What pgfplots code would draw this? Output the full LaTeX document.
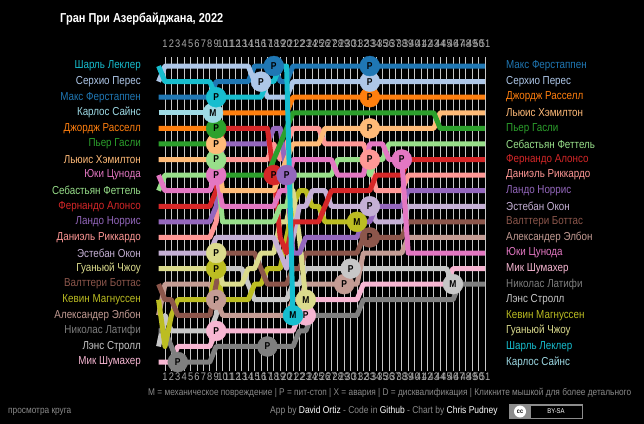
\documentclass[border=0pt]{standalone}
\usepackage{fontspec}
\setmainfont{Liberation Sans}[FakeStretch=0.85]
\usepackage{pgfplots}
\pgfplotsset{compat=1.18}
\definecolor{cVER}{HTML}{1F77B4}
\definecolor{cPER}{HTML}{AEC7E8}
\definecolor{cRUS}{HTML}{FF7F0E}
\definecolor{cHAM}{HTML}{FFBB78}
\definecolor{cGAS}{HTML}{2CA02C}
\definecolor{cVET}{HTML}{98DF8A}
\definecolor{cALO}{HTML}{D62728}
\definecolor{cRIC}{HTML}{FF9896}
\definecolor{cNOR}{HTML}{9467BD}
\definecolor{cOCO}{HTML}{C5B0D5}
\definecolor{cBOT}{HTML}{8C564B}
\definecolor{cALB}{HTML}{C49C94}
\definecolor{cTSU}{HTML}{E377C2}
\definecolor{cMSC}{HTML}{F7B6D2}
\definecolor{cLAT}{HTML}{7F7F7F}
\definecolor{cSTR}{HTML}{C7C7C7}
\definecolor{cMAG}{HTML}{BCBD22}
\definecolor{cZHO}{HTML}{DBDB8D}
\definecolor{cLEC}{HTML}{17BECF}
\definecolor{cSAI}{HTML}{9EDAE5}
\definecolor{lapg}{HTML}{A8A8A8}
\definecolor{gridc}{HTML}{C8C8C8}
\definecolor{footg}{HTML}{8A8A8A}
\pgfplotsset{
  drv/.style={mark=none, line width=5bp, line join=round},
  pit/.style={only marks, mark=*, mark size=10bp, nodes near coords={#1}, nodes near coords align={center},
    every node near coord/.append style={text=black, font=\bfseries\fontsize{10}{10}\selectfont, inner sep=0pt}},
  lapaxis/.style={at={(158.6bp,-57bp)}, anchor=north west,
    width=326.4bp, height=314.4bp, scale only axis,
    xmin=0, xmax=51, ymin=0.42, ymax=20.6, y dir=reverse,
    axis line style={draw=none}, tick style={draw=none}, major tick length=0pt,
    xtick={1,...,51}, ytick={1,...,20},
    /pgf/number format/assume math mode=true,
    clip=false},
}
\begin{document}
\begin{tikzpicture}
\fill[black] (0,0) rectangle (644bp,-424bp);
\node[anchor=west, text=white, font=\bfseries\fontsize{13}{15}\selectfont, inner sep=0pt] at (60bp,-19bp) {Гран При Азербайджана, 2022};

\begin{axis}[lapaxis,
  xticklabel pos=upper,
  xticklabel style={text=lapg, font=\fontsize{11}{11}\selectfont, inner sep=0pt, anchor=center, yshift=13bp},
  xmajorgrids, grid style={draw=gridc, line width=1bp},
  yticklabels={{\textcolor{cLEC}{Шарль Леклер}},{\textcolor{cPER}{Серхио Перес}},{\textcolor{cVER}{Макс Ферстаппен}},{\textcolor{cSAI}{Карлос Сайнс}},{\textcolor{cRUS}{Джордж Расселл}},{\textcolor{cGAS}{Пьер Гасли}},{\textcolor{cHAM}{Льюис Хэмилтон}},{\textcolor{cTSU}{Юки Цунода}},{\textcolor{cVET}{Себастьян Феттель}},{\textcolor{cALO}{Фернандо Алонсо}},{\textcolor{cNOR}{Ландо Норрис}},{\textcolor{cRIC}{Даниэль Риккардо}},{\textcolor{cOCO}{Эстебан Окон}},{\textcolor{cZHO}{Гуаньюй Чжоу}},{\textcolor{cBOT}{Валттери Боттас}},{\textcolor{cMAG}{Кевин Магнуссен}},{\textcolor{cALB}{Александер Элбон}},{\textcolor{cLAT}{Николас Латифи}},{\textcolor{cSTR}{Лэнс Стролл}},{\textcolor{cMSC}{Мик Шумахер}}},
  yticklabel style={font=\fontsize{11.6}{12}\selectfont, anchor=east, inner sep=0pt, xshift=-17.6bp},
]
% driver lines (grid order reversed)
\addplot[drv, cMSC] coordinates {(0,20)(2,20)(3,19)(8,19)(9,18)(21,18)(22,17)(23,17)(24,16)(31,16)(32,15)(45,15)(46,14)(51,14)};
\addplot[drv, cSTR] coordinates {(0,19)(1,17)(2,18)(8,18)(9,17)(10,14)(13,14)(14,15)(15,16)(20,16)(21,15)(22,15)(23,14)(45,14)(46,15)};
\addplot[drv, cLAT] coordinates {(0,18)(1,18)(2,19)(3,20)(8,20)(9,19)(21,19)(22,18)(23,18)(24,17)(31,17)(32,16)(46,16)(47,15)(51,15)};
\addplot[drv, cALB] coordinates {(0,17)(1,15)(8,15)(9,16)(10,17)(20,17)(21,16)(22,16)(23,15)(31,15)(32,13)(38,13)(39,12)(51,12)};
\addplot[drv, cMAG] coordinates {(0,16)(1,19)(2,17)(3,16)(8,16)(9,14)(10,16)(14,16)(15,15)(16,15)(17,14)(19,14)(20,12)(21,10)(22,9)(23,9)(24,10)(25,10)(26,11)(31,11)};
\addplot[drv, cBOT] coordinates {(0,15)(1,16)(2,16)(3,17)(8,17)(9,15)(10,13)(15,13)(16,14)(17,15)(20,15)(21,14)(22,14)(23,13)(31,13)(32,12)(38,12)(39,11)(51,11)};
\addplot[drv, cZHO] coordinates {(0,14)(8,14)(9,13)(10,15)(13,15)(14,14)(15,14)(16,13)(18,13)(19,11)(20,11)(21,9)(22,12)(23,16)};
\addplot[drv, cOCO] coordinates {(0,13)(8,13)(9,12)(18,12)(19,13)(20,14)(21,12)(22,10)(23,10)(24,9)(26,9)(27,10)(33,10)(34,11)(38,11)(39,10)(51,10)};
\addplot[drv, cRIC] coordinates {(0,12)(8,12)(9,11)(10,7)(17,7)(18,6)(19,7)(20,6)(21,5)(25,5)(26,6)(32,6)(33,7)(34,9)(38,9)(39,8)(51,8)};
\addplot[drv, cNOR] coordinates {(0,11)(8,11)(9,10)(10,6)(17,6)(18,5)(19,5)(20,8)(21,13)(22,13)(23,12)(31,12)(32,11)(33,11)(34,10)(38,10)(39,9)(51,9)};
\addplot[drv, cALO] coordinates {(0,10)(8,10)(9,9)(10,5)(17,5)(18,8)(19,12)(20,13)(21,11)(25,11)(26,10)(27,9)(33,9)(34,8)(38,8)(39,7)(51,7)};
\addplot[drv, cVET] coordinates {(0,9)(1,8)(8,8)(9,7)(10,11)(18,11)(19,10)(20,10)(21,8)(27,8)(28,7)(32,7)(33,8)(34,7)(35,7)(36,6)(51,6)};
\addplot[drv, cTSU] coordinates {(0,8)(1,9)(8,9)(9,8)(10,10)(18,10)(19,9)(20,9)(21,7)(27,7)(28,8)(32,8)(33,6)(35,6)(36,7)(38,7)(39,13)(51,13)};
\addplot[drv, cHAM] coordinates {(0,7)(8,7)(9,6)(10,9)(18,9)(19,8)(20,7)(21,6)(25,6)(26,5)(43,5)(44,4)(51,4)};
\addplot[drv, cGAS] coordinates {(0,6)(8,6)(9,5)(10,8)(17,8)(18,7)(19,6)(20,5)(21,4)(43,4)(44,5)(51,5)};
\addplot[drv, cRUS] coordinates {(0,5)(8,5)(9,4)(20,4)(21,3)(51,3)};
\addplot[drv, cSAI] coordinates {(0,4)(8.5,4)};
\addplot[drv, cVER] coordinates {(0,3)(8,3)(9,2)(14,2)(15,1)(18,1)(19,2)(20,2)(21,1)(51,1)};
\addplot[drv, cPER] coordinates {(0,2)(1,1)(14,1)(15,2)(16,2)(17,3)(20,3)(21,2)(51,2)};
\addplot[drv, cLEC] coordinates {(0,1)(1,2)(8,2)(9,3)(16,3)(17,2)(18,2)(19,1)(20,1)(21,17)};
% pit stops and retirements
\addplot[pit=P, cLAT] coordinates {(3,20)(17,19)};
\addplot[pit=P, cMSC] coordinates {(9,18)(23,17)};
\addplot[pit=P, cALB] coordinates {(9,16)(29,15)};
\addplot[pit=P, cSTR] coordinates {(30,14)};
\addplot[pit=M, cSTR] coordinates {(46,15)};
\addplot[pit=P, cMAG] coordinates {(9,14)};
\addplot[pit=M, cMAG] coordinates {(31,11)};
\addplot[pit=P, cZHO] coordinates {(9,13)};
\addplot[pit=M, cLEC] coordinates {(21,17)};
\addplot[pit=M, cZHO] coordinates {(23,16)};
\addplot[pit=P, cBOT] coordinates {(33,12)};
\addplot[pit=P, cOCO] coordinates {(33,10)};
\addplot[pit=P, cALO] coordinates {(18,8)};
\addplot[pit=P, cNOR] coordinates {(20,8)};
\addplot[pit=P, cRIC] coordinates {(33,7)};
\addplot[pit=P, cTSU] coordinates {(9,8)(38,7)};
\addplot[pit=P, cVET] coordinates {(9,7)};
\addplot[pit=P, cHAM] coordinates {(9,6)(33,5)};
\addplot[pit=P, cGAS] coordinates {(9,5)};
\addplot[pit=M, cSAI] coordinates {(8.5,4)};
\addplot[pit=P, cRUS] coordinates {(33,3)};
\addplot[pit=P, cLEC] coordinates {(9,3)};
\addplot[pit=P, cPER] coordinates {(16,2)(33,2)};
\addplot[pit=P, cVER] coordinates {(18,1)(33,1)};
\end{axis}

\begin{axis}[lapaxis,
  xticklabel pos=lower,
  xticklabel style={text=lapg, font=\fontsize{11}{11}\selectfont, inner sep=0pt, anchor=center, yshift=-5bp},
  yticklabel pos=upper,
  yticklabels={{\textcolor{cVER}{Макс Ферстаппен}},{\textcolor{cPER}{Серхио Перес}},{\textcolor{cRUS}{Джордж Расселл}},{\textcolor{cHAM}{Льюис Хэмилтон}},{\textcolor{cGAS}{Пьер Гасли}},{\textcolor{cVET}{Себастьян Феттель}},{\textcolor{cALO}{Фернандо Алонсо}},{\textcolor{cRIC}{Даниэль Риккардо}},{\textcolor{cNOR}{Ландо Норрис}},{\textcolor{cOCO}{Эстебан Окон}},{\textcolor{cBOT}{Валттери Боттас}},{\textcolor{cALB}{Александер Элбон}},{\textcolor{cTSU}{Юки Цунода}},{\textcolor{cMSC}{Мик Шумахер}},{\textcolor{cLAT}{Николас Латифи}},{\textcolor{cSTR}{Лэнс Стролл}},{\textcolor{cMAG}{Кевин Магнуссен}},{\textcolor{cZHO}{Гуаньюй Чжоу}},{\textcolor{cLEC}{Шарль Леклер}},{\textcolor{cSAI}{Карлос Сайнс}}},
  yticklabel style={font=\fontsize{11.6}{12}\selectfont, anchor=west, inner sep=0pt, xshift=21bp},
]
\addplot[draw=none, mark=none] coordinates {(0,1)};
\end{axis}

\node[anchor=west, inner sep=0pt, text=footg, font=\fontsize{9.8}{12}\selectfont] at (148bp,-393bp) {M = механическое повреждение | P = пит-стоп | X = авария | D = дисквалификация | Кликните мышкой для более детального};
\node[anchor=west, inner sep=0pt, text=footg, font=\fontsize{9.8}{12}\selectfont] at (8bp,-412bp) {просмотра круга};
\node[anchor=west, inner sep=0pt, text=footg, font=\fontsize{10}{12}\selectfont] at (270bp,-411bp) {App by \textcolor{white}{David Ortiz} - Code in \textcolor{white}{Github} - Chart by \textcolor{white}{Chris Pudney}};
\fill[white!55!black] (509bp,-404bp) rectangle (583bp,-419bp);
\fill[black] (531bp,-405.5bp) rectangle (581.5bp,-417.5bp);
\fill[white] (520bp,-411.5bp) circle (6bp);
\node[inner sep=0pt, font=\bfseries\fontsize{6.5}{7}\selectfont, text=black] at (520bp,-411.5bp) {cc};
\node[inner sep=0pt, font=\fontsize{7}{8}\selectfont, text=white] at (556bp,-411.5bp) {BY-SA};
\pgfresetboundingbox
\path[use as bounding box] (0,0) rectangle (644bp,-424bp);
\end{tikzpicture}
\end{document}
